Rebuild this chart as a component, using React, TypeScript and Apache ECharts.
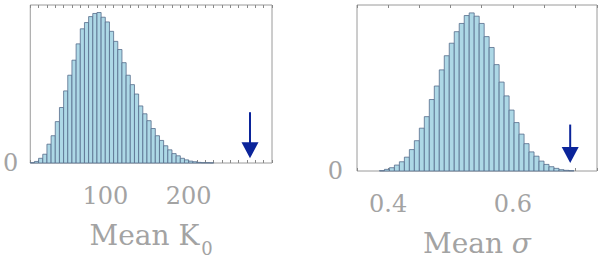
import React, { useEffect, useRef } from 'react';
import * as echarts from 'echarts';

// Histogram of Mean K0 (bins of width 5 starting at 10)
const K0_START = 10;
const K0_WIDTH = 5;
const k0Counts = [
  1, 5, 15, 28, 60, 87, 132, 177, 230, 280,
  328, 380, 428, 448, 467, 477, 480, 465, 450, 420,
  388, 362, 320, 280, 250, 220, 182, 157, 135, 110,
  87, 72, 55, 42, 30, 23, 15, 10, 6, 4,
  2, 1, 1, 0.5,
];
const k0TickLabels = [100, 200];
const k0Arrow = [273.6, 162, 15]; // x, shaft top, tip

// Histogram of Mean sigma (bins of width 0.008 starting at 0.386)
const SIG_START = 0.386;
const SIG_WIDTH = 0.008;
const sigmaCounts = [
  1, 5, 10, 18, 28, 42, 65, 92, 130, 165,
  217, 258, 307, 350, 388, 423, 448, 472, 480, 470,
  448, 408, 375, 323, 270, 228, 185, 147, 112, 83,
  58, 45, 30, 20, 13, 8, 4, 2, 1,
];
const sigmaTickLabels = [0.4, 0.6];
const sigmaArrow = [0.692, 141, 24];

// y tick label shown on each panel
const yTickLabels = [0];

const FONT = 'DejaVu Serif';
const TEXT_COLOR = '#a3a3a3';
const FRAME_COLOR = '#9a9a9a';
const BAR_FILL = '#add8e6';
const BAR_EDGE = '#566c8c';
const ARROW_COLOR = '#0b249a';

const histData = (start: number, width: number, counts: number[]) =>
  counts.map((c, i) => [start + i * width, start + (i + 1) * width, c]);

const renderBar = (_params: any, api: any) => {
  const p0 = api.coord([api.value(0), api.value(2)]);
  const p1 = api.coord([api.value(1), 0]);
  return {
    type: 'rect',
    shape: { x: p0[0], y: p0[1], width: p1[0] - p0[0], height: p1[1] - p0[1] },
    style: { fill: BAR_FILL, stroke: BAR_EDGE, lineWidth: 0.8 },
  };
};

const renderArrow = (_params: any, api: any) => {
  const top = api.coord([api.value(0), api.value(1)]);
  const tip = api.coord([api.value(0), api.value(2)]);
  const hw = 8.5;
  const hh = 16;
  return {
    type: 'group',
    children: [
      {
        type: 'line',
        shape: { x1: top[0], y1: top[1], x2: tip[0], y2: tip[1] - hh + 1 },
        style: { stroke: ARROW_COLOR, lineWidth: 2 },
      },
      {
        type: 'polygon',
        shape: { points: [[tip[0] - hw, tip[1] - hh], [tip[0] + hw, tip[1] - hh], [tip[0], tip[1]]] },
        style: { fill: ARROW_COLOR },
      },
    ],
  };
};

const matchTick = (v: number, ticks: number[], digits: number) => {
  const t = ticks.find((x) => Math.abs(x - v) < 1e-6);
  return t === undefined ? '' : t.toFixed(digits);
};

const tickStyle = { inside: true, length: 3, lineStyle: { color: '#888', width: 1 } };

const bottomAxis = (gridIndex: number, min: number, max: number, interval: number, fmt: (v: number) => string, name: string) => ({
  type: 'value',
  gridIndex,
  position: 'bottom',
  min,
  max,
  interval,
  axisLine: { show: false },
  splitLine: { show: false },
  axisTick: tickStyle,
  axisLabel: { formatter: fmt, fontFamily: FONT, fontSize: 24, color: TEXT_COLOR, margin: 21 },
  name,
  nameLocation: 'middle',
  nameGap: 56,
  nameTextStyle: {
    fontFamily: FONT,
    fontSize: 28,
    color: TEXT_COLOR,
    rich: {
      m: { fontFamily: FONT, fontSize: 28, color: TEXT_COLOR, lineHeight: 32 },
      s: { fontFamily: FONT, fontSize: 18, color: TEXT_COLOR, lineHeight: 18, verticalAlign: 'top', padding: [20, 0, 0, 2] },
      g: { fontFamily: FONT, fontSize: 28, color: TEXT_COLOR, lineHeight: 32, fontStyle: 'italic' },
    },
  },
});

const topAxis = (gridIndex: number, min: number, max: number, interval: number) => ({
  type: 'value',
  gridIndex,
  position: 'top',
  min,
  max,
  interval,
  axisLine: { show: false },
  splitLine: { show: false },
  axisTick: tickStyle,
  axisLabel: { show: false },
});

const yAxisFor = (gridIndex: number, margin: number) => ({
  type: 'value',
  gridIndex,
  min: 0,
  max: 504,
  interval: 504,
  axisLine: { show: false },
  axisTick: { show: false },
  splitLine: { show: false },
  axisLabel: {
    formatter: (v: number) => matchTick(v, yTickLabels, 0),
    fontFamily: FONT,
    fontSize: 24,
    color: TEXT_COLOR,
    margin,
    verticalAlign: 'middle',
    padding: [0, 0, 16, 0],
  },
});

export default function App() {
  const ref = useRef<HTMLDivElement>(null);
  useEffect(() => {
    if (!ref.current) return;
    const chart = echarts.init(ref.current, null, { renderer: 'svg' });
    chart.setOption({
      animation: false,
      backgroundColor: '#ffffff',
      grid: [
        { left: 30, top: 5, width: 242, height: 168, show: true, borderColor: FRAME_COLOR, borderWidth: 1, backgroundColor: 'transparent' },
        { left: 357, top: 5, width: 241, height: 168, show: true, borderColor: FRAME_COLOR, borderWidth: 1, backgroundColor: 'transparent' },
      ],
      xAxis: [
        bottomAxis(0, 10, 300, 10, (v: number) => matchTick(v, k0TickLabels, 0), '{m|Mean K}{s|0}'),
        bottomAxis(1, 0.35, 0.735, 0.05, (v: number) => matchTick(v, sigmaTickLabels, 1), '{m|Mean }{g|σ}'),
        topAxis(0, 10, 300, 10),
        topAxis(1, 0.35, 0.735, 0.05),
      ],
      yAxis: [yAxisFor(0, 12), yAxisFor(1, 14)],
      series: [
        { type: 'custom', xAxisIndex: 0, yAxisIndex: 0, silent: true, renderItem: renderBar, data: histData(K0_START, K0_WIDTH, k0Counts) },
        { type: 'custom', xAxisIndex: 1, yAxisIndex: 1, silent: true, renderItem: renderBar, data: histData(SIG_START, SIG_WIDTH, sigmaCounts) },
        { type: 'custom', xAxisIndex: 0, yAxisIndex: 0, silent: true, renderItem: renderArrow, data: [k0Arrow] },
        { type: 'custom', xAxisIndex: 1, yAxisIndex: 1, silent: true, renderItem: renderArrow, data: [sigmaArrow] },
      ],
    });
    return () => chart.dispose();
  }, []);
  return <div ref={ref} style={{ position: 'absolute', left: 0, top: 0, width: 600, height: 262 }} />;
}
